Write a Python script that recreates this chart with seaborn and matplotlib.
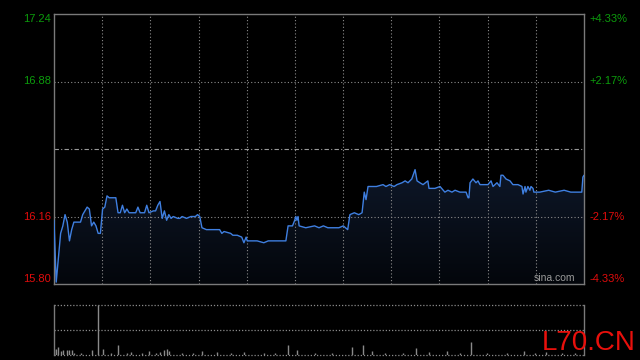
import numpy as np
import pandas as pd
import matplotlib
matplotlib.use('Agg')
import matplotlib.pyplot as plt
from matplotlib.colors import LinearSegmentedColormap
import seaborn as sns

# intraday price (minute index, price)
minutes = [0, 1, 3, 4, 5, 6, 7, 8, 9, 10, 12, 13, 14, 15, 16, 17, 18, 19, 20, 21,
           22, 23, 24, 25, 28, 29, 30, 31, 32, 33, 34, 37, 38, 39, 41, 42, 43, 45, 46, 47,
           48, 49, 50, 51, 52, 53, 54, 56, 57, 58, 60, 62, 64, 65, 66, 67, 69, 75, 76, 77,
           80, 81, 83, 85, 86, 87, 87.5, 88, 92, 95, 97, 101, 105, 106, 108, 109, 109.5, 110, 110.5, 111,
           114, 118, 120, 122, 124, 126, 129, 131, 133, 134, 136, 138, 139.5, 140.5, 141.3, 142.2, 146, 149, 150.3, 152,
           154, 155.3, 157.6, 159, 160.3, 162, 163.5, 164.4, 165.7, 167.1, 169.3, 169.8, 172.5, 174.8, 177, 178.4, 180.2, 181.6, 183.8, 186.6,
           187.5, 187.9, 188.4, 189.7, 191.1, 192, 192.9, 196.5, 197.9, 198.8, 200.6, 201.9, 202.4, 203.3, 204.7, 206.5, 207.8, 210.1, 211.9, 212.4,
           213.3, 213.7, 214.6, 215.5, 216, 216.9, 217.3, 220, 224, 227, 231, 234, 239, 239.5, 240]
prices = [16.14, 15.81, 16.07, 16.11, 16.17, 16.13, 16.03, 16.09, 16.13, 16.13, 16.13, 16.17, 16.19, 16.21, 16.20, 16.11, 16.13, 16.11, 16.07, 16.07,
          16.20, 16.21, 16.27, 16.26, 16.26, 16.18, 16.18, 16.22, 16.18, 16.20, 16.18, 16.18, 16.21, 16.18, 16.18, 16.22, 16.18, 16.19, 16.19, 16.22,
          16.24, 16.15, 16.19, 16.14, 16.17, 16.15, 16.16, 16.15, 16.15, 16.16, 16.15, 16.16, 16.16, 16.17, 16.16, 16.10, 16.09, 16.09, 16.07, 16.08,
          16.07, 16.06, 16.06, 16.05, 16.02, 16.05, 16.03, 16.03, 16.03, 16.02, 16.03, 16.03, 16.03, 16.11, 16.11, 16.14, 16.16, 16.14, 16.16, 16.11,
          16.10, 16.11, 16.10, 16.11, 16.10, 16.10, 16.10, 16.11, 16.09, 16.17, 16.18, 16.17, 16.18, 16.29, 16.25, 16.32, 16.32, 16.33, 16.32, 16.33,
          16.32, 16.33, 16.34, 16.35, 16.34, 16.36, 16.41, 16.35, 16.34, 16.33, 16.35, 16.31, 16.31, 16.32, 16.29, 16.30, 16.29, 16.30, 16.29, 16.29,
          16.26, 16.26, 16.34, 16.36, 16.34, 16.35, 16.33, 16.33, 16.35, 16.32, 16.34, 16.32, 16.38, 16.38, 16.36, 16.35, 16.33, 16.33, 16.32, 16.28,
          16.32, 16.29, 16.32, 16.30, 16.32, 16.31, 16.29, 16.29, 16.30, 16.29, 16.30, 16.29, 16.29, 16.37, 16.38]

# per-minute volume bars that are visible (minute, volume)
vol_minutes = [0, 1, 2, 3, 4, 6, 7, 8, 9, 12, 17, 20, 22, 26, 29, 33, 35, 40, 43, 46,
               48, 50, 51, 52, 58, 63, 67, 74, 80, 86, 95, 100, 106, 110, 118, 126, 135, 140, 144, 150,
               158, 164, 170, 178, 184, 189, 196, 205, 213, 218, 223, 230, 236]
volumes = [1080, 1080, 1440, 720, 900, 900, 900, 900, 360, 360, 900, 9000, 1080, 360, 1800, 360, 540, 360, 720, 360,
           540, 900, 1080, 720, 360, 360, 720, 540, 360, 540, 360, 360, 1800, 900, 360, 360, 1440, 1800, 720, 360,
           360, 1260, 540, 720, 360, 2340, 360, 360, 720, 360, 540, 360, 360]
vol_max = 9000

prev_close = 16.52
price_lo, price_hi = 15.80, 17.24
left_ticks = [17.24, 16.88, 16.16, 15.80]
left_labels = ['17.24', '16.88', '16.16', '15.80']
right_labels = ['+4.33%', '+2.17%', '-2.17%', '-4.33%']

green = '#0c9c0c'
red = '#e00c0c'
grid_c = '#8c8c8c'
border_c = '#7a7a7a'

sns.set_style('dark')
plt.rcParams['font.family'] = ['Liberation Sans', 'DejaVu Sans']

fig = plt.figure(figsize=(6.4, 3.6), dpi=100, facecolor='black')
ax = fig.add_axes([54 / 640, 1 - 284 / 360, 530 / 640, 270 / 360])
ax.set_facecolor('black')

df = pd.DataFrame({'minute': minutes, 'price': prices})

# gradient fill under the price line
poly = ax.fill_between(df['minute'], df['price'], price_lo, color='none', lw=0)
fill_cmap = LinearSegmentedColormap.from_list('fill', ['#03060b', '#0e1728'])
grad = np.linspace(0, 1, 256).reshape(-1, 1)
im = ax.imshow(grad, extent=[0, 240, price_lo, df['price'].max()], origin='lower',
               aspect='auto', cmap=fill_cmap, zorder=1)
im.set_clip_path(poly.get_paths()[0], transform=ax.transData)

sns.lineplot(data=df, x='minute', y='price', ax=ax, color='#3f7fe0', lw=1.0,
             estimator=None, sort=False, zorder=3)

ax.set_xlim(0, 240)
ax.set_ylim(price_lo, price_hi)

# grid
for gx in np.linspace(0, 240, 12)[1:-1]:
    ax.axvline(gx, color=grid_c, lw=0.8, ls=(0, (1, 2)), zorder=2)
for gy in [16.88, 16.16]:
    ax.axhline(gy, color=grid_c, lw=0.8, ls=(0, (1, 2)), zorder=2)
ax.axhline(prev_close, color='#9a9a9a', lw=0.8, ls=(0, (4, 2, 1, 2)), zorder=2)

ax.set_xticks([])
ax.set_yticks([])
ax.set_xlabel('')
ax.set_ylabel('')
for s in ax.spines.values():
    s.set_color(border_c)
    s.set_linewidth(1)
    s.set_visible(True)

# axis labels
ytr = ax.get_yaxis_transform()
for val, lab, pct in zip(left_ticks, left_labels, right_labels):
    c = green if val > prev_close else red
    va = 'top' if val == price_hi else ('bottom' if val == price_lo else 'center')
    ax.text(-0.006, val, lab, transform=ytr, ha='right', va=va, color=c, fontsize=8)
    ax.text(1.011, val, pct, transform=ytr, ha='left', va=va, color=c, fontsize=8)

ax.text(0.984, 0.004, 'sina.com', transform=ax.transAxes, ha='right', va='bottom',
        color='#9a9a9a', fontsize=7.5)

# volume panel
ax2 = fig.add_axes([54 / 640, 5 / 360, 530 / 640, 50 / 360])
ax2.set_facecolor('black')
ax2.vlines(vol_minutes, 0, volumes, color='#8a8a8a', lw=1)
ax2.set_xlim(0, 240)
ax2.set_ylim(0, vol_max)
for gy in [0, vol_max / 2, vol_max]:
    ax2.axhline(gy, color=grid_c, lw=0.9, ls=(0, (1, 1.5)), clip_on=False)
ax2.set_xticks([])
ax2.set_yticks([])
ax2.spines['top'].set_visible(False)
ax2.spines['bottom'].set_visible(False)
for side in ['left', 'right']:
    ax2.spines[side].set_visible(True)
    ax2.spines[side].set_color(border_c)
    ax2.spines[side].set_linewidth(1)

fig.text(636 / 640, 1 - 350 / 360, 'L70.CN', ha='right', va='baseline', color='#e8100c',
         fontsize=20, zorder=10)

fig.savefig('out.png', dpi=100, facecolor='black')
